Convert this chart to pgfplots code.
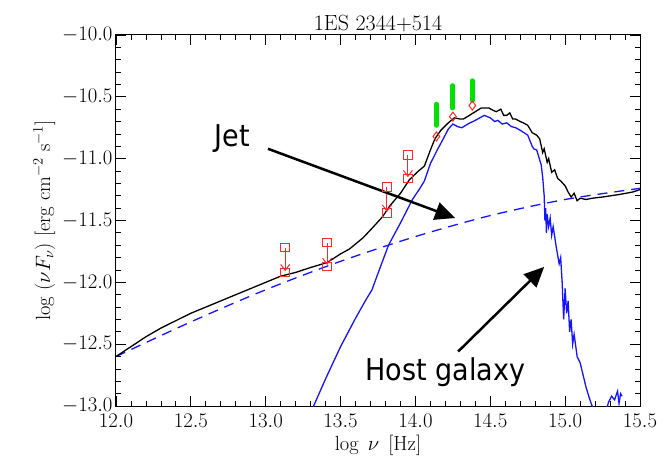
\documentclass[border=0pt]{standalone}
\usepackage{pgfplots}
\pgfplotsset{compat=1.18}
\usepackage{fontspec}
\newfontfamily\annfont[FakeStretch=0.9]{DejaVu Sans}
\usetikzlibrary{arrows.meta}
\definecolor{idlgreen}{RGB}{0,225,0}
\definecolor{idlred}{RGB}{255,40,40}
\definecolor{idlblue}{RGB}{20,20,255}
\begin{document}
\begin{tikzpicture}
\begin{axis}[name=ax, at={(0,0)}, anchor=south west,
  scale only axis, width=524pt, height=371pt,
  xmin=12, xmax=15.5, ymin=-13, ymax=-10,
  xtick={12,12.5,...,15.5}, ytick={-13,-12.5,...,-10},
  minor x tick num=4, minor y tick num=4,
  tick align=inside, major tick length=10pt, minor tick length=5pt,
  tick style={black, line width=0.8pt},
  axis line style={line width=1pt},
  ticklabel style={font=\fontsize{20}{24}\selectfont},
  xticklabel style={yshift=-5pt, /pgf/number format/.cd, fixed, fixed zerofill, precision=1},
  yticklabel style={/pgf/number format/.cd, fixed, fixed zerofill, precision=1},
  xlabel={log\;\,$\nu$\;\,[Hz]},
  ylabel={log ($\nu F_\nu$) [erg cm$^{-2}$ s$^{-1}$]},
  label style={font=\fontsize{20.5}{24}\selectfont},
  xlabel style={at={(axis description cs:0.5,0)}, anchor=north, yshift=-26pt},
  title={1ES 2344+514},
  title style={font=\fontsize{22}{26}\selectfont, yshift=-6pt},
  clip=true,
]
% jet (dashed)
\addplot[idlblue, line width=1.3pt, dash pattern=on 10pt off 7pt, smooth] coordinates {
(12.0,-12.60) (12.5,-12.32) (13.0,-12.06) (13.5,-11.83) (14.0,-11.63)
(14.5,-11.46) (15.0,-11.33) (15.5,-11.24)};
% host galaxy
\addplot[idlblue, line width=1.3pt] coordinates {
(13.30,-13.05) (13.32,-13.00) (13.40,-12.78) (13.50,-12.52) (13.60,-12.29)
(13.67,-12.14) (13.71,-12.06) (13.74,-11.96) (13.82,-11.70) (13.90,-11.52)
(13.98,-11.33) (14.03,-11.24) (14.06,-11.18) (14.10,-11.04) (14.15,-10.92)
(14.19,-10.83) (14.22,-10.76) (14.25,-10.72) (14.28,-10.74)
(14.31,-10.75) (14.35,-10.72) (14.40,-10.69) (14.46,-10.65) (14.50,-10.67)
(14.53,-10.70) (14.55,-10.69) (14.58,-10.72) (14.61,-10.71) (14.64,-10.74)
(14.67,-10.75) (14.70,-10.77) (14.75,-10.81) (14.78,-10.90) (14.79,-10.92)
(14.81,-10.93) (14.84,-11.05) (14.85,-11.15) (14.86,-11.30) (14.865,-11.50)
(14.87,-11.40) (14.875,-11.60) (14.88,-11.45) (14.89,-11.55) (14.90,-11.48)
(14.91,-11.62) (14.92,-11.55) (14.94,-11.71) (14.96,-11.85) (14.97,-11.80)
(14.98,-12.00) (14.99,-12.30) (15.00,-12.05) (15.01,-12.25) (15.02,-12.15)
(15.03,-12.40) (15.04,-12.30) (15.05,-12.50) (15.06,-12.42) (15.08,-12.60)
(15.10,-12.65) (15.12,-12.75) (15.14,-12.85) (15.16,-12.93) (15.18,-13.00)
(15.20,-13.05) (15.27,-13.05) (15.29,-12.97) (15.31,-12.92) (15.33,-12.95)
(15.35,-12.88) (15.36,-12.98) (15.37,-12.90) (15.38,-12.92)};
% total
\addplot[black, line width=1.3pt] coordinates {
(12.00,-12.60) (12.10,-12.52) (12.20,-12.44) (12.30,-12.37) (12.40,-12.31)
(12.50,-12.25) (12.60,-12.20) (12.70,-12.15) (12.80,-12.10) (12.90,-12.05)
(13.00,-12.00) (13.10,-11.95) (13.20,-11.92) (13.30,-11.88) (13.41,-11.84)
(13.50,-11.77) (13.56,-11.73) (13.65,-11.64) (13.72,-11.55) (13.78,-11.47)
(13.83,-11.38) (13.90,-11.28) (13.96,-11.17) (14.02,-11.10) (14.06,-11.06)
(14.10,-10.93) (14.13,-10.84) (14.17,-10.77) (14.22,-10.71) (14.26,-10.67)
(14.30,-10.68) (14.32,-10.68) (14.36,-10.65) (14.40,-10.62) (14.44,-10.59)
(14.49,-10.59) (14.52,-10.61) (14.54,-10.62) (14.57,-10.60) (14.59,-10.65)
(14.61,-10.65) (14.63,-10.63) (14.65,-10.68) (14.67,-10.68) (14.70,-10.70)
(14.72,-10.71) (14.75,-10.73) (14.78,-10.79) (14.81,-10.81) (14.83,-10.84)
(14.85,-10.95) (14.86,-10.92) (14.88,-11.03) (14.89,-11.00) (14.91,-11.11)
(14.93,-11.09) (14.95,-11.16) (14.97,-11.18) (15.00,-11.22) (15.02,-11.27)
(15.04,-11.31) (15.06,-11.28) (15.08,-11.34) (15.10,-11.32) (15.14,-11.33)
(15.18,-11.32) (15.25,-11.31) (15.36,-11.29) (15.45,-11.27) (15.50,-11.25)};
% green bars
\addplot[idlgreen, line width=5pt, line cap=round] coordinates {(14.14,-10.56) (14.14,-10.73)};
\addplot[idlgreen, line width=5pt, line cap=round] coordinates {(14.25,-10.41) (14.25,-10.59)};
\addplot[idlgreen, line width=5pt, line cap=round] coordinates {(14.38,-10.37) (14.38,-10.53)};
% upper limits: squares
\addplot[idlred, only marks, mark=square, mark size=4.2pt, mark options={draw=idlred, line width=1pt}] coordinates {
(13.13,-11.92) (13.13,-11.72) (13.41,-11.68) (13.41,-11.87)
(13.81,-11.23) (13.81,-11.44) (13.95,-10.97) (13.95,-11.16)};
% upper limits: arrows
\addplot[idlred, mark=none, line width=1pt, -{Straight Barb[length=6pt,width=9pt]},
  quiver={u=\thisrow{u}, v=\thisrow{v}}] table {
x y u v
13.13 -11.72 0 -0.19
13.41 -11.68 0 -0.18
13.81 -11.23 0 -0.20
13.95 -10.97 0 -0.18
};
% diamonds
\addplot[idlred, only marks, mark=diamond, mark size=4.5pt, mark options={draw=idlred, line width=1pt}] coordinates {
(14.14,-10.82) (14.25,-10.66) (14.38,-10.57)};
% annotations
\draw[black, line width=2.5pt, -{Triangle[length=20pt,width=18pt]}] (axis cs:13.015,-10.92) -- (axis cs:14.265,-11.48);
\draw[black, line width=2.5pt, -{Triangle[length=20pt,width=18pt]}] (axis cs:14.285,-12.56) -- (axis cs:14.86,-11.875);
\node[font=\annfont\fontsize{30}{32}\selectfont] at (axis cs:12.775,-10.84) {Jet};
\node[font=\annfont\fontsize{30}{32}\selectfont, inner sep=1pt] at (axis cs:14.20,-12.725) {Host galaxy};
\end{axis}
\pgfresetboundingbox
\path[use as bounding box] (-116pt,-55pt) rectangle (555pt,406pt);
\end{tikzpicture}
\end{document}
